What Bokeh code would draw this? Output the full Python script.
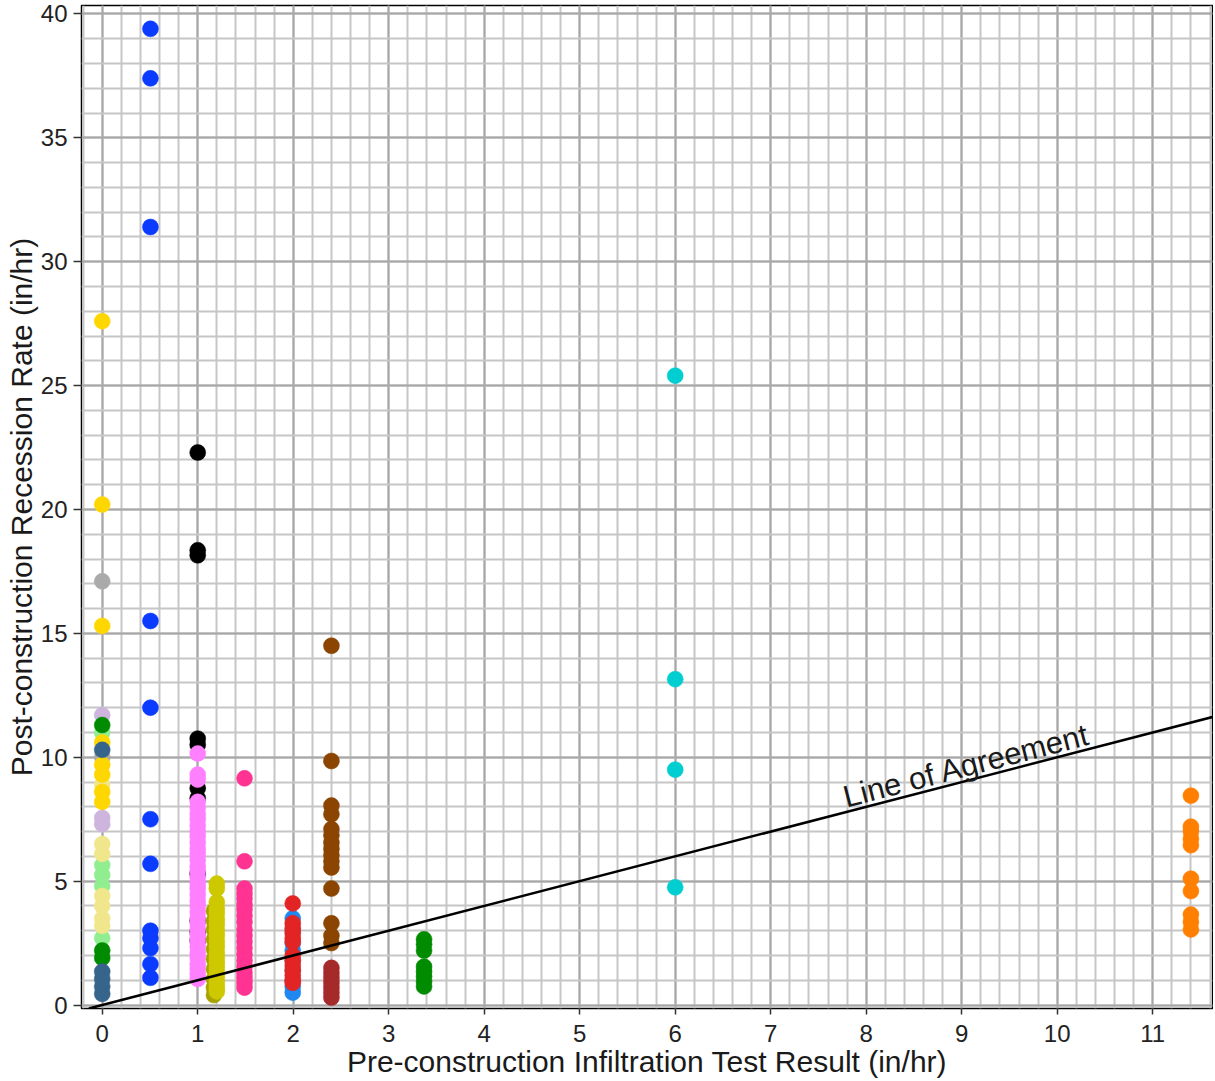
import math
from bokeh.plotting import figure
from bokeh.models import SingleIntervalTicker, Label, Range1d, Slope
from bokeh.embed import file_html
from bokeh.resources import INLINE

# ---- data: (pre-construction rate, post-construction recession rates) ----
# x = 0 site group
x0_lightgreen = [11.0, 5.65, 5.25, 4.8, 2.7]
x0_khaki = [8.9, 6.5, 6.1, 4.4, 4.0, 3.5, 3.2]
x0_thistle = [11.7, 7.55, 7.3]
x0_darkgray = [17.1, 10.0]
x0_gold = [27.6, 20.2, 15.3, 10.6, 9.7, 9.3, 8.6, 8.2]
x0_green = [11.3, 2.2, 1.9]
x0_steelblue = [10.3, 1.35, 1.05, 0.75, 0.45]
# x = 0.5
x05_blue = [39.4, 37.4, 31.4, 15.5, 12.0, 7.5, 5.7, 3.0, 2.7, 2.3, 1.65, 1.1]
# x = 1
x1_black = [22.3, 18.35, 18.15, 10.75, 10.5, 8.75, 8.35, 5.3, 3.4, 2.95, 2.6]
x1_violet = [10.15, 9.3, 9.1, 8.2, 7.95, 7.7, 7.5, 7.25, 7.0, 6.8, 6.55, 6.3, 6.1,
             5.85, 5.6, 5.4, 5.15, 4.9, 4.7, 4.45, 4.2, 4.0, 3.75, 3.5, 3.3, 3.05,
             2.8, 2.6, 2.35, 2.1, 1.9, 1.65, 1.45, 1.25, 1.05]
# x = 1.2 (two sites)
x12_darkolive = [3.8, 3.4, 3.05, 2.65, 2.25, 1.85, 1.45, 1.05, 0.7, 0.4]
x12_olive = [4.9, 4.7, 4.15, 3.9, 3.7, 3.45, 3.25, 3.0, 2.8, 2.55, 2.35, 2.1,
             1.9, 1.7, 1.5, 1.3, 1.1, 0.9, 0.7, 0.55]
# x = 1.5
x15_deeppink = [9.15, 5.8, 4.7, 4.5, 4.3, 4.05, 3.85, 3.6, 3.35, 3.05, 2.8, 2.55,
                2.3, 2.05, 1.8, 1.55, 1.3, 1.1, 0.9, 0.7]
# x = 2
x2_dodger = [3.5, 3.0, 2.5, 2.2, 1.8, 1.4, 1.0, 0.75, 0.5]
x2_red = [4.1, 3.3, 3.1, 2.9, 2.7, 2.55, 2.0, 1.8, 1.6, 1.4, 1.2, 1.0, 0.9]
# x = 2.4
x24_brown = [14.5, 9.85, 8.05, 7.7, 7.1, 6.85, 6.55, 6.3, 6.05, 5.8, 5.55, 4.7,
             3.3, 2.8, 2.5]
x24_darkred = [1.5, 1.3, 1.1, 0.9, 0.7, 0.5, 0.3]
# x = 3.37
x34_green = [2.65, 2.45, 2.2, 1.55, 1.35, 1.15, 0.95, 0.75]
# x = 6
x6_cyan = [25.4, 13.15, 9.5, 4.75]
# x = 11.4
x114_orange = [8.45, 7.2, 7.0, 6.7, 6.45, 5.1, 4.6, 3.65, 3.35, 3.05]

series = [
    (0.0, "#90EE90", x0_lightgreen),
    (0.0, "#F0E68C", x0_khaki),
    (0.0, "#CDB5DD", x0_thistle),
    (0.0, "#AAAAAA", x0_darkgray),
    (0.0, "#FFD700", x0_gold),
    (0.0, "#008B00", x0_green),
    (0.0, "#36648B", x0_steelblue),
    (0.505, "#0A3BFF", x05_blue),
    (1.0, "#000000", x1_black),
    (1.0, "#FF80FF", x1_violet),
    (1.17, "#A6A300", x12_darkolive),
    (1.2, "#CDC800", x12_olive),
    (1.49, "#FF3392", x15_deeppink),
    (1.995, "#1E88F0", x2_dodger),
    (1.995, "#E32424", x2_red),
    (2.4, "#8B4500", x24_brown),
    (2.4, "#A52A2A", x24_darkred),
    (3.37, "#008B00", x34_green),
    (6.0, "#00CED1", x6_cyan),
    (11.4, "#FF7F00", x114_orange),
]

X_MIN, X_MAX = -0.217, 11.626
Y_MIN, Y_MAX = -0.14, 40.34
W, H = 1213, 1080
BL, BR, BT, BB = 81, 1, 5, 72

p = figure(width=W, height=H, x_range=Range1d(X_MIN, X_MAX), y_range=Range1d(Y_MIN, Y_MAX),
           output_backend="svg", toolbar_location=None,
           min_border_left=BL, min_border_right=BR, min_border_top=BT, min_border_bottom=BB,
           background_fill_color="white", border_fill_color="white")

p.outline_line_color = "black"
p.outline_line_width = 1.5

p.xaxis.ticker = SingleIntervalTicker(interval=1, num_minor_ticks=5)
p.yaxis.ticker = SingleIntervalTicker(interval=5, num_minor_ticks=5)

for g in (p.xgrid, p.ygrid):
    g.grid_line_color = "#a6a6a6"
    g.grid_line_width = 2
    g.minor_grid_line_color = "#c6c6c6"
    g.minor_grid_line_width = 2

for ax in (p.xaxis, p.yaxis):
    ax.axis_line_color = None
    ax.major_tick_line_color = "#333333"
    ax.major_tick_line_width = 1.5
    ax.major_tick_in = 0
    ax.minor_tick_line_color = None
    ax.major_label_text_font = "Liberation Sans"
    ax.major_label_text_font_size = "24px"
    ax.major_label_text_color = "#222222"
    ax.axis_label_text_font = "Liberation Sans"
    ax.axis_label_text_font_size = "30px"
    ax.axis_label_text_font_style = "normal"
    ax.axis_label_text_color = "#1a1a1a"

p.xaxis.major_tick_out = 6
p.yaxis.major_tick_out = 8
p.xaxis.major_label_standoff = 10
p.yaxis.major_label_standoff = 6
p.xaxis.axis_label_standoff = 0
p.yaxis.axis_label_standoff = 0
p.xaxis.axis_label = "Pre-construction Infiltration Test Result (in/hr)"
p.yaxis.axis_label = "Post-construction Recession Rate (in/hr)"

for xv, col, vals in series:
    p.scatter(x=[xv] * len(vals), y=vals, size=16, fill_color=col, line_color=col, line_width=0.5)

p.add_layout(Slope(gradient=1, y_intercept=0, line_color="black", line_width=2.5))

frame_w = W - BL - BR
frame_h = H - BT - BB
ang = math.atan((frame_h / (Y_MAX - Y_MIN)) / (frame_w / (X_MAX - X_MIN)))
p.add_layout(Label(x=9.05, y=9.66, text="Line of Agreement", angle=ang, angle_units="rad",
                   text_align="center", text_baseline="alphabetic",
                   text_font="Liberation Sans", text_font_size="31px", text_color="#1a1a1a"))

open("out.html", "w").write(file_html(p, INLINE))
